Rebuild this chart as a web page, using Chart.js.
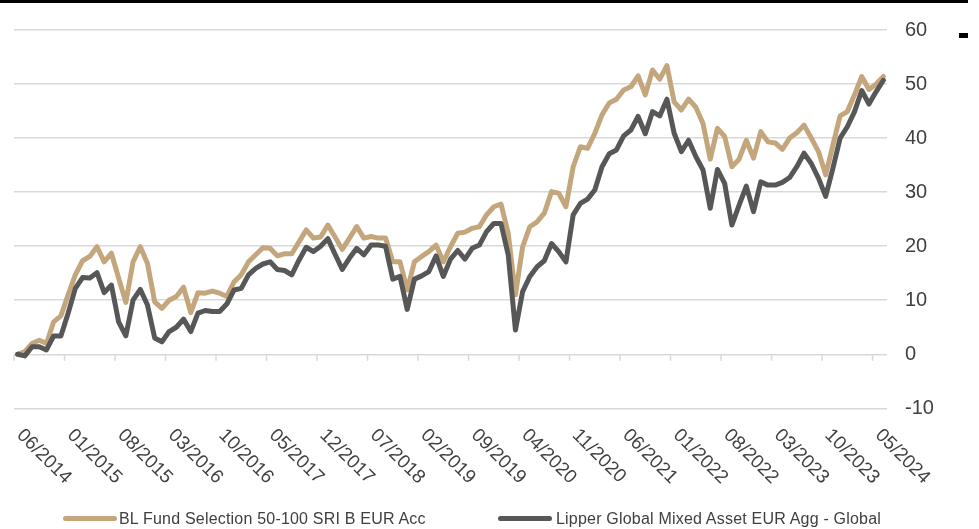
<!DOCTYPE html>
<html>
<head>
<meta charset="utf-8">
<script src="https://cdn.jsdelivr.net/npm/chart.js@4.4.1/dist/chart.umd.min.js"></script>
<style>
html,body{margin:0;padding:0;background:#fff;}
#wrap{position:relative;width:979px;height:529px;overflow:hidden;font-family:"Liberation Sans",Arial,sans-serif;}
#c{position:absolute;left:0;top:0;}
.deco{position:absolute;background:#000;}
.leg-line{position:absolute;height:5px;border-radius:2.5px;}
.leg-text{position:absolute;font-size:16px;line-height:20px;color:#404040;white-space:nowrap;letter-spacing:0.2px;}
</style>
</head>
<body>
<div id="wrap">
<canvas id="c" width="979" height="529"></canvas>
<div class="deco" style="left:0;top:0;width:968px;height:3px"></div>
<div class="deco" style="left:959px;top:33px;width:9px;height:5px"></div>
<div id="legend"></div>
</div>
<script>
// ---- data ----
const categories = [
 '06/2014','07/2014','08/2014','09/2014','10/2014','11/2014','12/2014',
 '01/2015','02/2015','03/2015','04/2015','05/2015','06/2015','07/2015','08/2015','09/2015','10/2015','11/2015','12/2015',
 '01/2016','02/2016','03/2016','04/2016','05/2016','06/2016','07/2016','08/2016','09/2016','10/2016','11/2016','12/2016',
 '01/2017','02/2017','03/2017','04/2017','05/2017','06/2017','07/2017','08/2017','09/2017','10/2017','11/2017','12/2017',
 '01/2018','02/2018','03/2018','04/2018','05/2018','06/2018','07/2018','08/2018','09/2018','10/2018','11/2018','12/2018',
 '01/2019','02/2019','03/2019','04/2019','05/2019','06/2019','07/2019','08/2019','09/2019','10/2019','11/2019','12/2019',
 '01/2020','02/2020','03/2020','04/2020','05/2020','06/2020','07/2020','08/2020','09/2020','10/2020','11/2020','12/2020',
 '01/2021','02/2021','03/2021','04/2021','05/2021','06/2021','07/2021','08/2021','09/2021','10/2021','11/2021','12/2021',
 '01/2022','02/2022','03/2022','04/2022','05/2022','06/2022','07/2022','08/2022','09/2022','10/2022','11/2022','12/2022',
 '01/2023','02/2023','03/2023','04/2023','05/2023','06/2023','07/2023','08/2023','09/2023','10/2023','11/2023','12/2023',
 '01/2024','02/2024','03/2024','04/2024','05/2024','06/2024'
];

const tickLabels = ['06/2014','01/2015','08/2015','03/2016','10/2016','05/2017','12/2017','07/2018','02/2019',
 '09/2019','04/2020','11/2020','06/2021','01/2022','08/2022','03/2023','10/2023','05/2024'];

const seriesNames = ['BL Fund Selection 50-100 SRI B EUR Acc', 'Lipper Global Mixed Asset EUR Agg - Global'];

const blFund = [
 0, 0.5, 2.0, 2.6, 2.0, 6.0, 7.1, 11.0, 14.7, 17.3,
 18.1, 19.9, 17.1, 18.7, 14.1, 9.6, 17.1, 19.9, 16.8, 9.7,
 8.5, 10.0, 10.7, 12.4, 7.7, 11.4, 11.3, 11.7, 11.3, 10.7,
 13.4, 14.7, 17.1, 18.4, 19.7, 19.6, 18.2, 18.6, 18.6, 20.8,
 23.0, 21.5, 21.7, 23.9, 21.7, 19.4, 21.5, 23.6, 21.5, 21.8,
 21.5, 21.5, 17.1, 17.1, 11.9, 17.1, 18.1, 19.0, 20.2, 17.1,
 19.9, 22.4, 22.6, 23.3, 23.6, 25.8, 27.3, 27.8, 22.4, 11.0,
 19.9, 23.6, 24.5, 26.1, 30.1, 29.8, 27.3, 34.7, 38.4, 38.1,
 40.9, 44.3, 46.5, 47.2, 48.9, 49.5, 51.5, 48.0, 52.6, 50.9,
 53.4, 46.7, 45.2, 47.2, 45.7, 42.7, 36.1, 41.8, 40.3, 34.7,
 36.1, 39.6, 36.3, 41.2, 39.3, 39.1, 37.9, 40.0, 41.0, 42.4,
 40.0, 37.5, 33.2, 38.7, 44.1, 44.9, 48.0, 51.4, 49.0, 50.0,
 51.4
];

const lipper = [
 0, -0.3, 1.4, 1.4, 0.8, 3.4, 3.4, 7.6, 12.2, 14.2,
 14.1, 15.1, 11.4, 12.8, 6.0, 3.4, 10.0, 12.0, 9.1, 3.0,
 2.3, 4.2, 5.0, 6.5, 4.2, 7.6, 8.1, 7.9, 7.9, 9.3,
 11.9, 12.2, 14.7, 15.9, 16.7, 17.1, 15.7, 15.5, 14.7, 17.4,
 19.8, 19.0, 20.0, 21.4, 18.5, 15.7, 17.8, 19.6, 18.4, 20.2,
 20.2, 20.0, 13.9, 14.4, 8.3, 13.9, 14.5, 15.3, 18.2, 14.4,
 17.6, 19.2, 17.6, 19.6, 20.2, 22.7, 24.2, 24.2, 18.4, 4.5,
 11.6, 14.4, 16.2, 17.3, 20.5, 19.0, 17.1, 25.8, 27.9, 28.7,
 30.4, 34.7, 37.1, 37.8, 40.4, 41.5, 44.0, 40.8, 44.9, 44.1,
 47.2, 40.9, 37.5, 39.6, 36.6, 34.1, 27.0, 34.2, 31.6, 23.9,
 27.6, 31.1, 26.4, 31.9, 31.3, 31.3, 31.8, 32.7, 34.7, 37.2,
 35.3, 32.6, 29.2, 34.4, 40.0, 42.1, 44.9, 48.8, 46.3, 48.6,
 50.7
];

const yTicks = [-10, 0, 10, 20, 30, 40, 50, 60];

// ---- styles ----
const TAN = '#C4A67D';
const DARK = '#575757';
const GRID = '#d9d9d9';
const TEXT = '#404040';
const FONT = '"Liberation Sans", Arial, sans-serif';

// ---- custom x axis (ticks at category boundaries, labels rotated +45deg) ----
const xAxisPlugin = {
  id: 'xaxisCustom',
  beforeDatasetsDraw(chart) {
    const {ctx, scales: {x, y}} = chart;
    const half = (x.getPixelForValue(1) - x.getPixelForValue(0)) / 2;
    const y0 = y.getPixelForValue(0);
    ctx.save();
    ctx.strokeStyle = GRID;
    ctx.lineWidth = 1.5;
    tickLabels.forEach(lbl => {
      const idx = categories.indexOf(lbl);
      const px = x.getPixelForValue(idx) - half;
      ctx.beginPath();
      ctx.moveTo(px, y0);
      ctx.lineTo(px, y0 + 6.5);
      ctx.stroke();
    });
    ctx.restore();
  },
  afterDraw(chart) {
    const {ctx, scales: {x, y}} = chart;
    ctx.save();
    ctx.fillStyle = TEXT;
    ctx.font = '19px ' + FONT;
    ctx.textAlign = 'left';
    ctx.textBaseline = 'middle';
    const ay = y.bottom + 24;
    tickLabels.forEach(lbl => {
      const idx = categories.indexOf(lbl);
      const px = x.getPixelForValue(idx) + 2;
      ctx.save();
      ctx.translate(px, ay);
      ctx.rotate(Math.PI / 4);
      ctx.fillText(lbl, 0, 0);
      ctx.restore();
    });
    ctx.restore();
  }
};

new Chart(document.getElementById('c'), {
  type: 'line',
  data: {
    labels: categories,
    datasets: [
      {label: seriesNames[0], data: blFund, borderColor: TAN, backgroundColor: TAN, borderWidth: 5,
       pointRadius: 0, tension: 0, fill: false, order: 1, borderJoinStyle: 'round', borderCapStyle: 'round'},
      {label: seriesNames[1], data: lipper, borderColor: DARK, backgroundColor: DARK, borderWidth: 5,
       pointRadius: 0, tension: 0, fill: false, order: 0, borderJoinStyle: 'round', borderCapStyle: 'round'}
    ]
  },
  options: {
    responsive: false,
    animation: false,
    devicePixelRatio: 1,
    layout: {padding: {left: 14, top: 30, right: 0, bottom: 120.7}},
    plugins: {legend: {display: false}, tooltip: {enabled: false}},
    scales: {
      x: {type: 'category', offset: true, display: false},
      y: {
        position: 'right', min: -10, max: 60,
        afterBuildTicks(s) { s.ticks = yTicks.map(v => ({value: v})); },
        afterFit(s) { s.width = 92; },
        ticks: {font: {family: FONT, size: 20}, color: TEXT, padding: 18},
        grid: {color: GRID, lineWidth: 1.5, drawTicks: false},
        border: {display: false}
      }
    }
  },
  plugins: [xAxisPlugin]
});

// ---- legend (real text) ----
const legendItems = [
  {name: seriesNames[0], color: TAN, lineLeft: 63, textLeft: 119},
  {name: seriesNames[1], color: DARK, lineLeft: 498, textLeft: 556}
];
const legendEl = document.getElementById('legend');
legendItems.forEach(it => {
  const ln = document.createElement('div');
  ln.className = 'leg-line';
  ln.style.left = it.lineLeft + 'px';
  ln.style.top = '516px';
  ln.style.width = '54px';
  ln.style.background = it.color;
  legendEl.appendChild(ln);
  const tx = document.createElement('div');
  tx.className = 'leg-text';
  tx.style.left = it.textLeft + 'px';
  tx.style.top = '509px';
  tx.textContent = it.name;
  legendEl.appendChild(tx);
});
</script>
</body>
</html>
